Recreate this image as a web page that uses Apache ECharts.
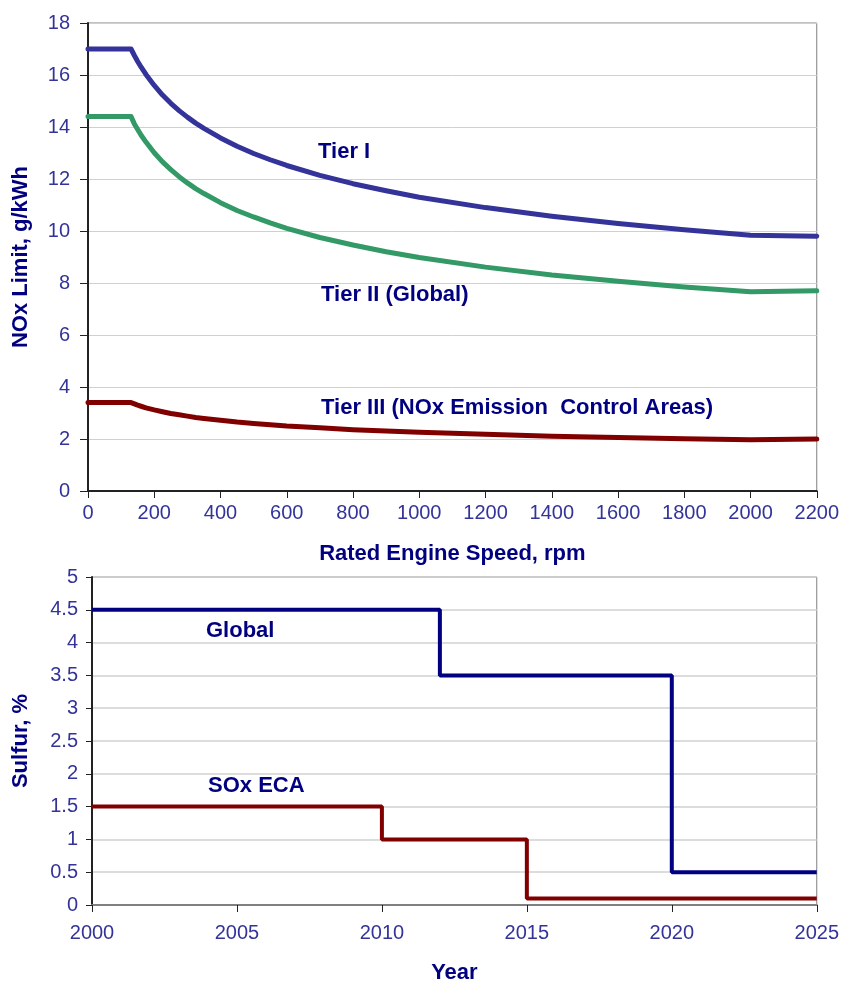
<!DOCTYPE html>
<html>
<head>
<meta charset="utf-8">
<script src="https://cdn.jsdelivr.net/npm/echarts@6/dist/echarts.min.js"></script>
<style>
html,body{margin:0;padding:0;background:#fff;overflow:hidden;}
#chart{width:842px;height:985px;}
</style>
</head>
<body>
<div id="chart"></div>
<script>
// ---- Data: NOx limits vs rated engine speed (rpm, g/kWh) ----
const rpm      = [0, 130, 140, 150, 160, 175, 200, 225, 250, 275, 300, 325, 350, 400, 450, 500, 550, 600, 700, 800, 900, 1000, 1200, 1400, 1600, 1800, 2000, 2000, 2200];
const tierI    = [17.0, 17.0, 16.75, 16.52, 16.31, 16.02, 15.60, 15.23, 14.91, 14.63, 14.38, 14.15, 13.95, 13.58, 13.26, 12.98, 12.74, 12.52, 12.14, 11.82, 11.55, 11.30, 10.90, 10.57, 10.29, 10.05, 9.84, 9.8, 9.8];
const tierII   = [14.4, 14.4, 14.12, 13.90, 13.69, 13.42, 13.01, 12.66, 12.36, 12.09, 11.85, 11.63, 11.44, 11.09, 10.79, 10.54, 10.31, 10.10, 9.75, 9.46, 9.20, 8.98, 8.61, 8.31, 8.07, 7.85, 7.66, 7.7, 7.7];
const tierIII  = [3.4, 3.4, 3.35, 3.30, 3.26, 3.20, 3.12, 3.05, 2.98, 2.93, 2.88, 2.83, 2.79, 2.72, 2.65, 2.60, 2.55, 2.50, 2.43, 2.36, 2.31, 2.26, 2.18, 2.11, 2.06, 2.01, 1.97, 2.0, 2.0];

// ---- Data: sulfur limits vs year (%) ----
const globalYears = [2000, 2012, 2012, 2020, 2020, 2025];
const globalS     = [4.5, 4.5, 3.5, 3.5, 0.5, 0.5];
const ecaYears    = [2000, 2010, 2010, 2015, 2015, 2025];
const ecaS        = [1.5, 1.5, 1.0, 1.0, 0.1, 0.1];

const zip = (xs, ys) => xs.map((x, i) => [x, ys[i]]);

const FONT = '"Liberation Sans", Arial, sans-serif';
const tickColor = '#333399';
const titleColor = '#000080';

const chart = echarts.init(document.getElementById('chart'), null, {renderer: 'canvas', width: 842, height: 985});

const labelStyle = {fontFamily: FONT, fontSize: 20, color: tickColor, formatter: v => String(v)};
const nameStyle = {fontFamily: FONT, fontSize: 22, fontWeight: 'bold', color: titleColor};

chart.setOption({
  animation: false,
  backgroundColor: '#fff',
  grid: [
    {left: 88, width: 732, top: 23, height: 468, show: true, borderColor: '#808080', borderWidth: 1, backgroundColor: 'transparent'},
    {left: 92, width: 728, top: 577, height: 330, show: true, borderColor: '#808080', borderWidth: 1, backgroundColor: 'transparent'}
  ],
  xAxis: [
    {
      gridIndex: 0, type: 'value', min: 0, max: 2200, interval: 200,
      name: 'Rated Engine Speed, rpm', nameLocation: 'middle', nameGap: 52, nameTextStyle: nameStyle,
      axisLine: {show: true, lineStyle: {color: '#222', width: 2}},
      axisTick: {show: true, length: 7, lineStyle: {color: '#222', width: 1}},
      axisLabel: Object.assign({margin: 12}, labelStyle),
      splitLine: {show: false}
    },
    {
      gridIndex: 1, type: 'value', min: 2000, max: 2025, interval: 5,
      name: 'Year', nameLocation: 'middle', nameGap: 57, nameTextStyle: nameStyle,
      axisLine: {show: true, lineStyle: {color: '#808080', width: 2}},
      axisTick: {show: true, length: 7, lineStyle: {color: '#222', width: 1}},
      axisLabel: Object.assign({margin: 18}, labelStyle),
      splitLine: {show: false}
    }
  ],
  yAxis: [
    {
      gridIndex: 0, type: 'value', min: 0, max: 18, interval: 2,
      name: 'NOx Limit, g/kWh', nameLocation: 'middle', nameGap: 56, nameRotate: 90, nameTextStyle: nameStyle,
      axisLine: {show: true, lineStyle: {color: '#222', width: 2}},
      axisTick: {show: true, length: 8, lineStyle: {color: '#222', width: 1}},
      axisLabel: Object.assign({margin: 18}, labelStyle),
      splitLine: {show: true, lineStyle: {color: '#d0d0d0', width: 1}}
    },
    {
      gridIndex: 1, type: 'value', min: 0, max: 5, interval: 0.5,
      name: 'Sulfur, %', nameLocation: 'middle', nameGap: 60, nameRotate: 90, nameTextStyle: nameStyle,
      axisLine: {show: true, lineStyle: {color: '#222', width: 2}},
      axisTick: {show: true, length: 6, lineStyle: {color: '#222', width: 1}},
      axisLabel: Object.assign({margin: 14}, labelStyle),
      splitLine: {show: true, lineStyle: {color: '#d0d0d0', width: 1.5}}
    }
  ],
  series: [
    {name: 'Tier I', type: 'line', xAxisIndex: 0, yAxisIndex: 0, data: zip(rpm, tierI), showSymbol: false, lineStyle: {color: '#333399', width: 5, join: 'round', cap: 'round'}},
    {name: 'Tier II (Global)', type: 'line', xAxisIndex: 0, yAxisIndex: 0, data: zip(rpm, tierII), showSymbol: false, lineStyle: {color: '#339966', width: 5, join: 'round', cap: 'round'}},
    {name: 'Tier III', type: 'line', xAxisIndex: 0, yAxisIndex: 0, data: zip(rpm, tierIII), showSymbol: false, lineStyle: {color: '#800000', width: 5, join: 'round', cap: 'round'}},
    {name: 'Global', type: 'line', xAxisIndex: 1, yAxisIndex: 1, data: zip(globalYears, globalS), showSymbol: false, lineStyle: {color: '#000080', width: 4}},
    {name: 'SOx ECA', type: 'line', xAxisIndex: 1, yAxisIndex: 1, data: zip(ecaYears, ecaS), showSymbol: false, lineStyle: {color: '#800000', width: 4}}
  ],
  graphic: [
    {type: 'text', left: 318, top: 141, style: {text: 'Tier I', font: 'bold 22px ' + FONT, fill: titleColor}},
    {type: 'text', left: 321, top: 284, style: {text: 'Tier II (Global)', font: 'bold 22px ' + FONT, fill: titleColor}},
    {type: 'text', left: 321, top: 397, style: {text: 'Tier III (NOx Emission  Control Areas)', font: 'bold 22px ' + FONT, fill: titleColor}},
    {type: 'text', left: 206, top: 620, style: {text: 'Global', font: 'bold 22px ' + FONT, fill: titleColor}},
    {type: 'text', left: 208, top: 775, style: {text: 'SOx ECA', font: 'bold 22px ' + FONT, fill: titleColor}}
  ]
});
</script>
</body>
</html>
